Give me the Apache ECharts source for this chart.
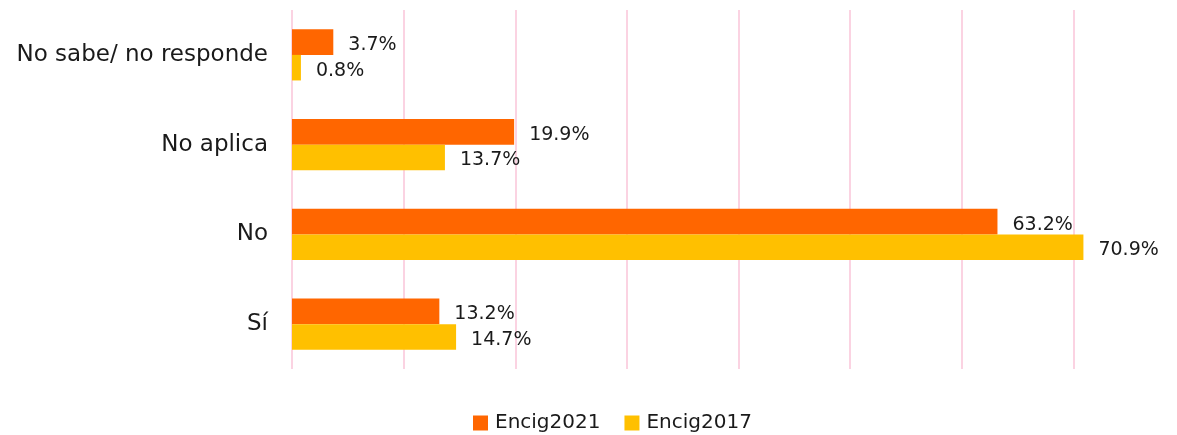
<!DOCTYPE html>
<html>
<head>
<meta charset="utf-8">
<script src="https://cdn.jsdelivr.net/npm/echarts@6/dist/echarts.min.js"></script>
<style>
  html, body { margin: 0; padding: 0; background: #fff; overflow: hidden; }
  /* a bit wider than the window so the 80% gridline falls off the right edge */
  #chart { width: 1185px; height: 435px; }
</style>
</head>
<body>
<div id="chart"></div>
<script>
const categories = ['Sí', 'No', 'No aplica', 'No sabe/ no responde']
const encig2021 = [13.2, 63.2, 19.9, 3.7]
const encig2017 = [14.7, 70.9, 13.7, 0.8]

const chart = echarts.init(document.getElementById('chart'))
const font = '"DejaVu Sans", sans-serif'

const labelStyle = {
  show: true,
  position: 'right',
  distance: 15,
  offset: [0, 3],
  color: '#1a1a1a',
  fontSize: 19,
  fontFamily: font,
  formatter: p => p.value.toFixed(1) + '%'
}

chart.setOption({
  animation: false,
  textStyle: { fontFamily: font },
  legend: {
    data: ['Encig2021', 'Encig2017'],
    bottom: -3,
    left: 468,
    icon: 'rect',
    itemWidth: 15,
    itemHeight: 15,
    itemGap: 24,
    textStyle: { fontSize: 20, color: '#1a1a1a', fontFamily: font, padding: [0, 0, 0, 2] }
  },
  grid: { left: 292, right: 0, top: 10, bottom: 66, containLabel: false },
  xAxis: {
    type: 'value',
    min: 0,
    max: 80,
    interval: 10,
    axisLabel: { show: false },
    axisLine: { show: false },
    axisTick: { show: false },
    splitLine: { show: true, lineStyle: { color: '#FAC4D8', width: 1.5 } }
  },
  yAxis: {
    type: 'category',
    data: categories,
    axisLine: { show: false },
    axisTick: { show: false },
    axisLabel: { fontSize: 23, color: '#1a1a1a', margin: 24, fontFamily: font }
  },
  series: [
    {
      name: 'Encig2021',
      type: 'bar',
      data: encig2021,
      itemStyle: { color: '#FF6600' },
      barGap: '0%',
      barCategoryGap: '43%',
      label: labelStyle
    },
    {
      name: 'Encig2017',
      type: 'bar',
      data: encig2017,
      itemStyle: { color: '#FFC000' },
      barGap: '0%',
      barCategoryGap: '43%',
      label: labelStyle
    }
  ]
})
</script>
</body>
</html>
